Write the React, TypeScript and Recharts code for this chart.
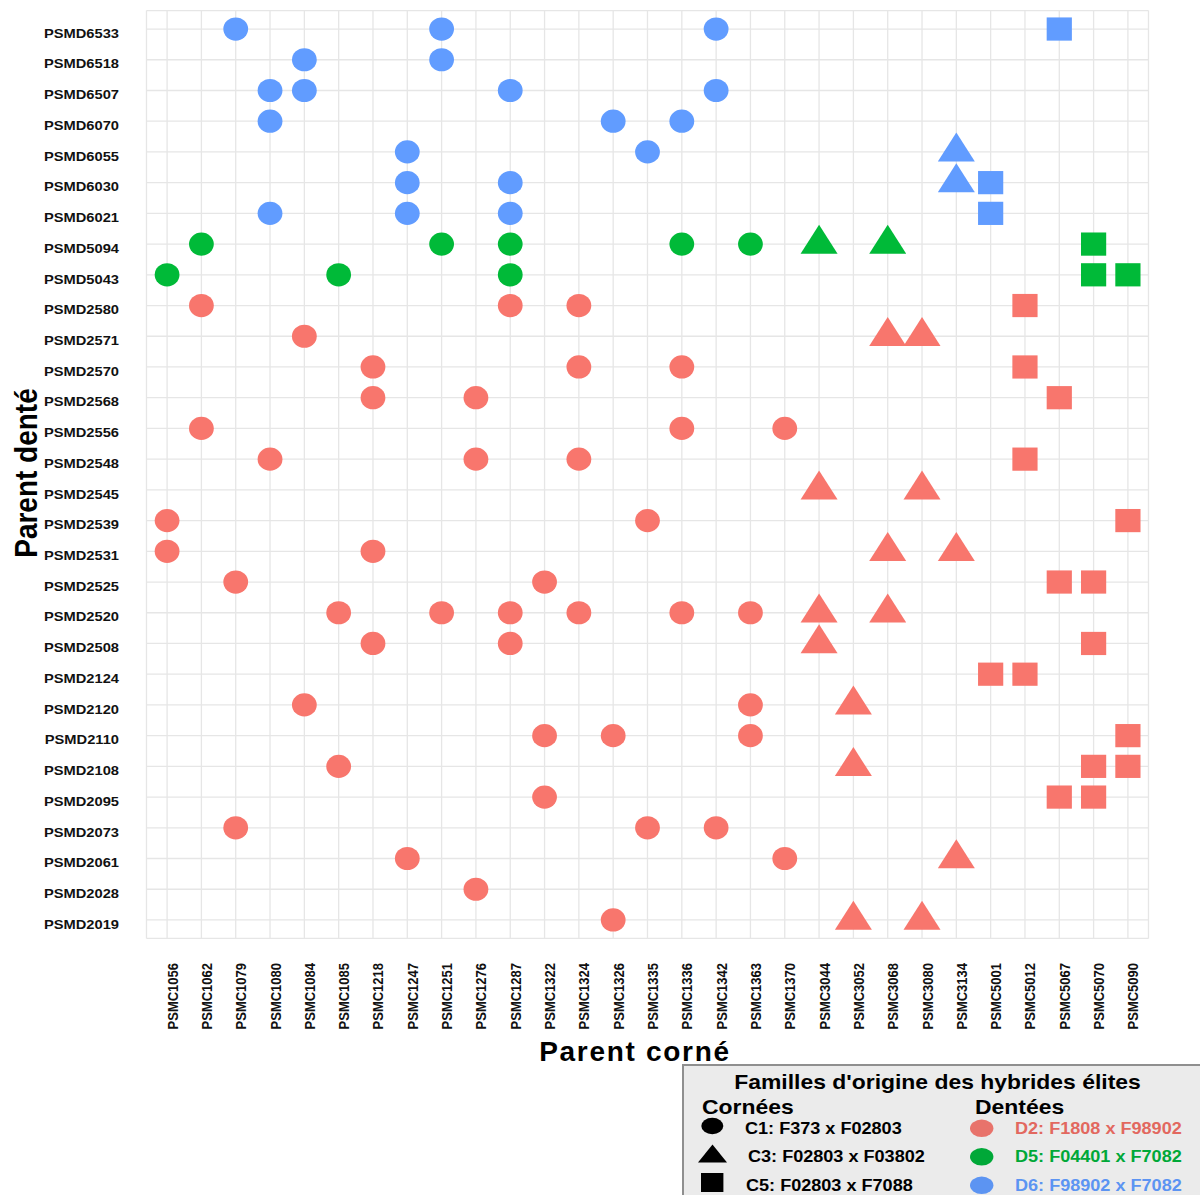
import React from 'react';
import { ScatterChart, Scatter, XAxis, YAxis, CartesianGrid } from 'recharts';

const FONT = '"Liberation Sans", Arial, Helvetica, sans-serif';
const SX = 1.13; // the reference is stretched a bit horizontally

// horned parents (x axis), left to right
const cornParents = [
  'PSMC1056', 'PSMC1062', 'PSMC1079', 'PSMC1080', 'PSMC1084', 'PSMC1085', 'PSMC1218', 'PSMC1247',
  'PSMC1251', 'PSMC1276', 'PSMC1287', 'PSMC1322', 'PSMC1324', 'PSMC1326', 'PSMC1335', 'PSMC1336',
  'PSMC1342', 'PSMC1363', 'PSMC1370', 'PSMC3044', 'PSMC3052', 'PSMC3068', 'PSMC3080', 'PSMC3134',
  'PSMC5001', 'PSMC5012', 'PSMC5067', 'PSMC5070', 'PSMC5090',
];

// toothed parents (y axis), top to bottom
const dentParents = [
  'PSMD6533', 'PSMD6518', 'PSMD6507', 'PSMD6070', 'PSMD6055', 'PSMD6030', 'PSMD6021', 'PSMD5094',
  'PSMD5043', 'PSMD2580', 'PSMD2571', 'PSMD2570', 'PSMD2568', 'PSMD2556', 'PSMD2548', 'PSMD2545',
  'PSMD2539', 'PSMD2531', 'PSMD2525', 'PSMD2520', 'PSMD2508', 'PSMD2124', 'PSMD2120', 'PSMD2110',
  'PSMD2108', 'PSMD2095', 'PSMD2073', 'PSMD2061', 'PSMD2028', 'PSMD2019',
];

type Row = [string, string[]];

// D6: F98902 x F7082
const d6c1: Row[] = [
  ['PSMD6533', ['PSMC1079', 'PSMC1251', 'PSMC1342']],
  ['PSMD6518', ['PSMC1084', 'PSMC1251']],
  ['PSMD6507', ['PSMC1080', 'PSMC1084', 'PSMC1287', 'PSMC1342']],
  ['PSMD6070', ['PSMC1080', 'PSMC1326', 'PSMC1336']],
  ['PSMD6055', ['PSMC1247', 'PSMC1335']],
  ['PSMD6030', ['PSMC1247', 'PSMC1287']],
  ['PSMD6021', ['PSMC1080', 'PSMC1247', 'PSMC1287']],
];
const d6c3: Row[] = [
  ['PSMD6055', ['PSMC3134']],
  ['PSMD6030', ['PSMC3134']],
];
const d6c5: Row[] = [
  ['PSMD6533', ['PSMC5067']],
  ['PSMD6030', ['PSMC5001']],
  ['PSMD6021', ['PSMC5001']],
];

// D5: F04401 x F7082
const d5c1: Row[] = [
  ['PSMD5094', ['PSMC1062', 'PSMC1251', 'PSMC1287', 'PSMC1336', 'PSMC1363']],
  ['PSMD5043', ['PSMC1056', 'PSMC1085', 'PSMC1287']],
];
const d5c3: Row[] = [
  ['PSMD5094', ['PSMC3044', 'PSMC3068']],
];
const d5c5: Row[] = [
  ['PSMD5094', ['PSMC5070']],
  ['PSMD5043', ['PSMC5070', 'PSMC5090']],
];

// D2: F1808 x F98902
const d2c1: Row[] = [
  ['PSMD2580', ['PSMC1062', 'PSMC1287', 'PSMC1324']],
  ['PSMD2571', ['PSMC1084']],
  ['PSMD2570', ['PSMC1218', 'PSMC1324', 'PSMC1336']],
  ['PSMD2568', ['PSMC1218', 'PSMC1276']],
  ['PSMD2556', ['PSMC1062', 'PSMC1336', 'PSMC1370']],
  ['PSMD2548', ['PSMC1080', 'PSMC1276', 'PSMC1324']],
  ['PSMD2539', ['PSMC1056', 'PSMC1335']],
  ['PSMD2531', ['PSMC1056', 'PSMC1218']],
  ['PSMD2525', ['PSMC1079', 'PSMC1322']],
  ['PSMD2520', ['PSMC1085', 'PSMC1251', 'PSMC1287', 'PSMC1324', 'PSMC1336', 'PSMC1363']],
  ['PSMD2508', ['PSMC1218', 'PSMC1287']],
  ['PSMD2120', ['PSMC1084', 'PSMC1363']],
  ['PSMD2110', ['PSMC1322', 'PSMC1326', 'PSMC1363']],
  ['PSMD2108', ['PSMC1085']],
  ['PSMD2095', ['PSMC1322']],
  ['PSMD2073', ['PSMC1079', 'PSMC1335', 'PSMC1342']],
  ['PSMD2061', ['PSMC1247', 'PSMC1370']],
  ['PSMD2028', ['PSMC1276']],
  ['PSMD2019', ['PSMC1326']],
];
const d2c3: Row[] = [
  ['PSMD2571', ['PSMC3068', 'PSMC3080']],
  ['PSMD2545', ['PSMC3044', 'PSMC3080']],
  ['PSMD2531', ['PSMC3068', 'PSMC3134']],
  ['PSMD2520', ['PSMC3044', 'PSMC3068']],
  ['PSMD2508', ['PSMC3044']],
  ['PSMD2120', ['PSMC3052']],
  ['PSMD2108', ['PSMC3052']],
  ['PSMD2061', ['PSMC3134']],
  ['PSMD2019', ['PSMC3052', 'PSMC3080']],
];
const d2c5: Row[] = [
  ['PSMD2580', ['PSMC5012']],
  ['PSMD2570', ['PSMC5012']],
  ['PSMD2568', ['PSMC5067']],
  ['PSMD2548', ['PSMC5012']],
  ['PSMD2539', ['PSMC5090']],
  ['PSMD2525', ['PSMC5067', 'PSMC5070']],
  ['PSMD2508', ['PSMC5070']],
  ['PSMD2124', ['PSMC5001', 'PSMC5012']],
  ['PSMD2110', ['PSMC5090']],
  ['PSMD2108', ['PSMC5070', 'PSMC5090']],
  ['PSMD2095', ['PSMC5067', 'PSMC5070']],
];

const RED = '#F8766D';
const GREEN = '#00BA38';
const BLUE = '#619CFF';

const toPoints = (rows: Row[]) =>
  rows.flatMap(([d, cs]) => cs.map((c) => ({ x: cornParents.indexOf(c), y: dentParents.indexOf(d) })));

const ellipseShape = (fill: string) => (p: any) => (
  <ellipse cx={p.cx} cy={p.cy} rx={12.4} ry={11.6} fill={fill} />
);
const triangleShape = (fill: string) => (p: any) => (
  <polygon
    points={`${p.cx},${p.cy - 19.3} ${p.cx + 18.5},${p.cy + 9.7} ${p.cx - 18.5},${p.cy + 9.7}`}
    fill={fill}
  />
);
const squareShape = (fill: string) => (p: any) => (
  <rect x={p.cx - 12.6} y={p.cy - 11.6} width={25.2} height={23.2} fill={fill} />
);

const series = [
  { key: 'd2c1', rows: d2c1, shape: ellipseShape(RED) },
  { key: 'd2c3', rows: d2c3, shape: triangleShape(RED) },
  { key: 'd2c5', rows: d2c5, shape: squareShape(RED) },
  { key: 'd5c1', rows: d5c1, shape: ellipseShape(GREEN) },
  { key: 'd5c3', rows: d5c3, shape: triangleShape(GREEN) },
  { key: 'd5c5', rows: d5c5, shape: squareShape(GREEN) },
  { key: 'd6c1', rows: d6c1, shape: ellipseShape(BLUE) },
  { key: 'd6c3', rows: d6c3, shape: triangleShape(BLUE) },
  { key: 'd6c5', rows: d6c5, shape: squareShape(BLUE) },
];

const YTick = (props: any) => {
  const { x, y, payload } = props;
  return (
    <text
      transform={`translate(${x - 27.5},${y + 8.7}) scale(${SX},1)`}
      textAnchor="end"
      fontSize={13}
      fontWeight="bold"
      fontFamily={FONT}
      fill="#111"
    >
      {dentParents[payload.value]}
    </text>
  );
};

const XTick = (props: any) => {
  const { x, y, payload } = props;
  return (
    <text
      transform={`translate(${x + 10.5},${y + 24.6}) scale(${SX},1) rotate(-90)`}
      textAnchor="end"
      fontSize={13}
      fontWeight="bold"
      fontFamily={FONT}
      fill="#111"
    >
      {cornParents[payload.value]}
    </text>
  );
};

const legendCorn = [
  { label: 'C1: F373 x F02803', tx: 745, ty: 1134 },
  { label: 'C3: F02803 x F03802', tx: 748, ty: 1161.5 },
  { label: 'C5: F02803 x F7088', tx: 746, ty: 1190.5 },
];
const legendDent = [
  { label: 'D2: F1808 x F98902', fill: '#E8736B', text: '#E2685F', ty: 1134 },
  { label: 'D5: F04401 x F7082', fill: '#00A838', text: '#00A838', ty: 1161.5 },
  { label: 'D6: F98902 x F7082', fill: '#5C94F2', text: '#5C94F2', ty: 1190.5 },
];

export default function App() {
  const xTicks = cornParents.map((_, i) => i);
  const yTicks = dentParents.map((_, i) => i);

  return (
    <div style={{ position: 'absolute', left: 0, top: 0, width: 1200, height: 1195, overflow: 'hidden', background: '#fff' }}>
      <ScatterChart width={1200} height={1195} margin={{ top: 10.6, right: 51.5, left: 0, bottom: 156.6 }}>
        <CartesianGrid stroke="#e6e6e6" strokeWidth={1.3} />
        <XAxis
          type="number"
          dataKey="x"
          domain={[-0.6, cornParents.length - 0.4]}
          ticks={xTicks}
          interval={0}
          axisLine={false}
          tickLine={false}
          tickSize={0}
          tickMargin={0}
          height={100}
          tick={<XTick />}
        />
        <YAxis
          type="number"
          dataKey="y"
          domain={[-0.6, dentParents.length - 0.4]}
          ticks={yTicks}
          interval={0}
          reversed
          axisLine={false}
          tickLine={false}
          tickSize={0}
          tickMargin={0}
          width={146.5}
          tick={<YTick />}
        />
        {series.map((s) => (
          <Scatter key={s.key} data={toPoints(s.rows)} shape={s.shape} isAnimationActive={false} />
        ))}
      </ScatterChart>

      <svg width={1200} height={1195} style={{ position: 'absolute', left: 0, top: 0, pointerEvents: 'none' }}>
        <text
          transform={`translate(37,473) scale(${SX},1) rotate(-90)`}
          textAnchor="middle"
          fontSize={28}
          fontWeight="bold"
          fontFamily={FONT}
          fill="#000"
        >
          Parent denté
        </text>
        <text
          x={635}
          y={1061}
          textAnchor="middle"
          fontSize={28}
          fontWeight="bold"
          fontFamily={FONT}
          letterSpacing={1.7}
          fill="#000"
        >
          Parent corné
        </text>

        {/* legend box */}
        <rect x={683} y={1065} width={530} height={140} fill="#ebebeb" stroke="#8f8f8f" strokeWidth={2} />
        <text transform={`translate(937.5,1089.3) scale(${SX},1)`} textAnchor="middle" fontSize={20.3} fontWeight="bold" fontFamily={FONT} fill="#000">
          Familles d'origine des hybrides élites
        </text>
        <text transform={`translate(702,1114) scale(${SX},1)`} fontSize={20.3} fontWeight="bold" fontFamily={FONT} fill="#000">
          Cornées
        </text>
        <text transform={`translate(975,1114) scale(${SX},1)`} fontSize={20.3} fontWeight="bold" fontFamily={FONT} fill="#000">
          Dentées
        </text>

        <ellipse cx={712.3} cy={1126} rx={11} ry={8.2} fill="#000" />
        <polygon points="712.5,1144.5 727,1162.5 698,1162.5" fill="#000" />
        <rect x={701} y={1173} width={22.4} height={19} fill="#000" />
        {legendCorn.map((l) => (
          <text key={l.label} transform={`translate(${l.tx},${l.ty}) scale(${SX},1)`} fontSize={16} fontWeight="bold" fontFamily={FONT} fill="#000">
            {l.label}
          </text>
        ))}
        {legendDent.map((l, i) => (
          <g key={l.label}>
            <ellipse cx={981.7} cy={1128.3 + i * 28.5} rx={11.7} ry={8.7} fill={l.fill} />
            <text transform={`translate(1015,${l.ty}) scale(${SX},1)`} fontSize={16} fontWeight="bold" fontFamily={FONT} fill={l.text}>
              {l.label}
            </text>
          </g>
        ))}
      </svg>
    </div>
  );
}
